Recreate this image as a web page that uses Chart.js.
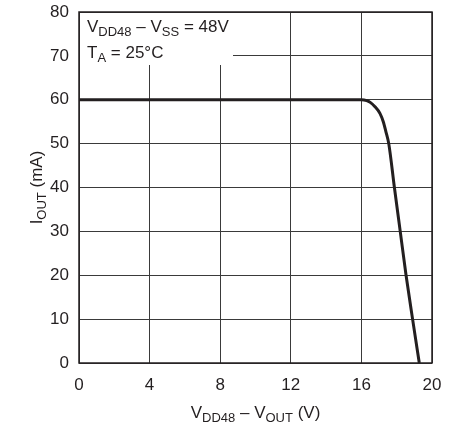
<!DOCTYPE html>
<html>
<head>
<meta charset="utf-8">
<script src="https://cdn.jsdelivr.net/npm/chart.js@4/dist/chart.umd.min.js"></script>
<style>
  html, body { margin: 0; padding: 0; background: #fff; }
  #wrap { width: 455px; height: 428px; }
</style>
</head>
<body>
<div id="wrap"><canvas id="ioutChart" width="455" height="428"></canvas></div>
<script>
// Curve: V(DD48) - V(OUT) in volts vs I(OUT) in mA
const vDiff = [0, 4, 8, 12, 16, 16.3, 16.5, 16.77, 17.05, 17.24, 17.39, 17.55, 17.87, 18.2, 18.53, 18.9, 19.28];
const iOut  = [60, 60, 60, 60, 60, 59.8, 59.4, 58.4, 56.9, 55, 52.7, 50, 40, 30, 20, 10, 0];

const xTicks = [0, 4, 8, 12, 16, 20];
const yMax = 80;
const yStep = 10;

const FONT = '"Liberation Sans Narrow", "Liberation Sans", Arial, sans-serif';

// draws text made of [text, isSubscript] parts, returns width
function drawRich(ctx, parts, x, y, size, align) {
    const subSize = Math.round(size * 0.78);
    let total = 0;
    parts.forEach(p => {
        ctx.font = (p[1] ? subSize : size) + 'px ' + FONT;
        total += ctx.measureText(p[0]).width;
    });
    let cx = align === 'center' ? x - total / 2 : x;
    ctx.textBaseline = 'alphabetic';
    ctx.textAlign = 'left';
    parts.forEach(p => {
        ctx.font = (p[1] ? subSize : size) + 'px ' + FONT;
        ctx.fillText(p[0], cx, p[1] ? y + 4 : y);
        cx += ctx.measureText(p[0]).width;
    });
    return total;
}

const decorPlugin = {
    id: 'decor',
    beforeDatasetsDraw(chart) {
        const ctx = chart.ctx;
        const a = chart.chartArea;
        ctx.save();
        // white box behind the conditions note
        ctx.fillStyle = '#fff';
        ctx.fillRect(a.left + 1, a.top + 1, 153, 52);
        ctx.fillStyle = '#231f20';
        drawRich(ctx, [['V', false], ['DD48', true], [' \u2013 V', false], ['SS', true], [' = 48V', false]], a.left + 8, a.top + 20, 17);
        drawRich(ctx, [['T', false], ['A', true], [' = 25\u00B0C', false]], a.left + 8, a.top + 46, 17);
        ctx.restore();
    },
    afterDraw(chart) {
        const ctx = chart.ctx;
        const a = chart.chartArea;
        ctx.save();
        ctx.strokeStyle = '#231f20';
        ctx.lineWidth = 1.5;
        ctx.strokeRect(a.left, a.top, a.right - a.left, a.bottom - a.top);
        ctx.fillStyle = '#231f20';
        // x axis title
        drawRich(ctx, [['V', false], ['DD48', true], [' \u2013 V', false], ['OUT', true], [' (V)', false]],
            (a.left + a.right) / 2, 418, 17, 'center');
        // y axis title, rotated
        ctx.translate(42, (a.top + a.bottom) / 2);
        ctx.rotate(-Math.PI / 2);
        drawRich(ctx, [['I', false], ['OUT', true], [' (mA)', false]], 0, 0, 17, 'center');
        ctx.restore();
    }
};

new Chart(document.getElementById('ioutChart'), {
    type: 'scatter',
    data: {
        datasets: [{
            data: vDiff.map((v, i) => ({ x: v, y: iOut[i] })),
            showLine: true,
            borderColor: '#231f20',
            borderWidth: 3,
            pointRadius: 0,
            cubicInterpolationMode: 'monotone',
            clip: false
        }]
    },
    options: {
        responsive: false,
        animation: false,
        layout: { padding: { top: 12, right: 23, left: 0, bottom: 0 } },
        plugins: {
            legend: { display: false },
            tooltip: { enabled: false }
        },
        scales: {
            x: {
                type: 'linear',
                min: xTicks[0],
                max: xTicks[xTicks.length - 1],
                afterBuildTicks: scale => { scale.ticks = xTicks.map(v => ({ value: v })); },
                afterFit: scale => {
                    scale.height = 65;
                    scale.paddingLeft = 0;
                    scale.paddingRight = 0;
                },
                ticks: {
                    color: '#231f20',
                    font: { family: FONT, size: 17 },
                    padding: 12,
                    maxRotation: 0
                },
                grid: { color: '#3a3a3a', lineWidth: 1, drawTicks: false },
                border: { display: false }
            },
            y: {
                min: 0,
                max: yMax,
                ticks: {
                    stepSize: yStep,
                    color: '#231f20',
                    font: { family: FONT, size: 17 },
                    padding: 10
                },
                afterFit: scale => {
                    scale.width = 79;
                    scale.paddingTop = 0;
                    scale.paddingBottom = 0;
                },
                grid: { color: '#3a3a3a', lineWidth: 1, drawTicks: false },
                border: { display: false }
            }
        }
    },
    plugins: [decorPlugin]
});
</script>
</body>
</html>
